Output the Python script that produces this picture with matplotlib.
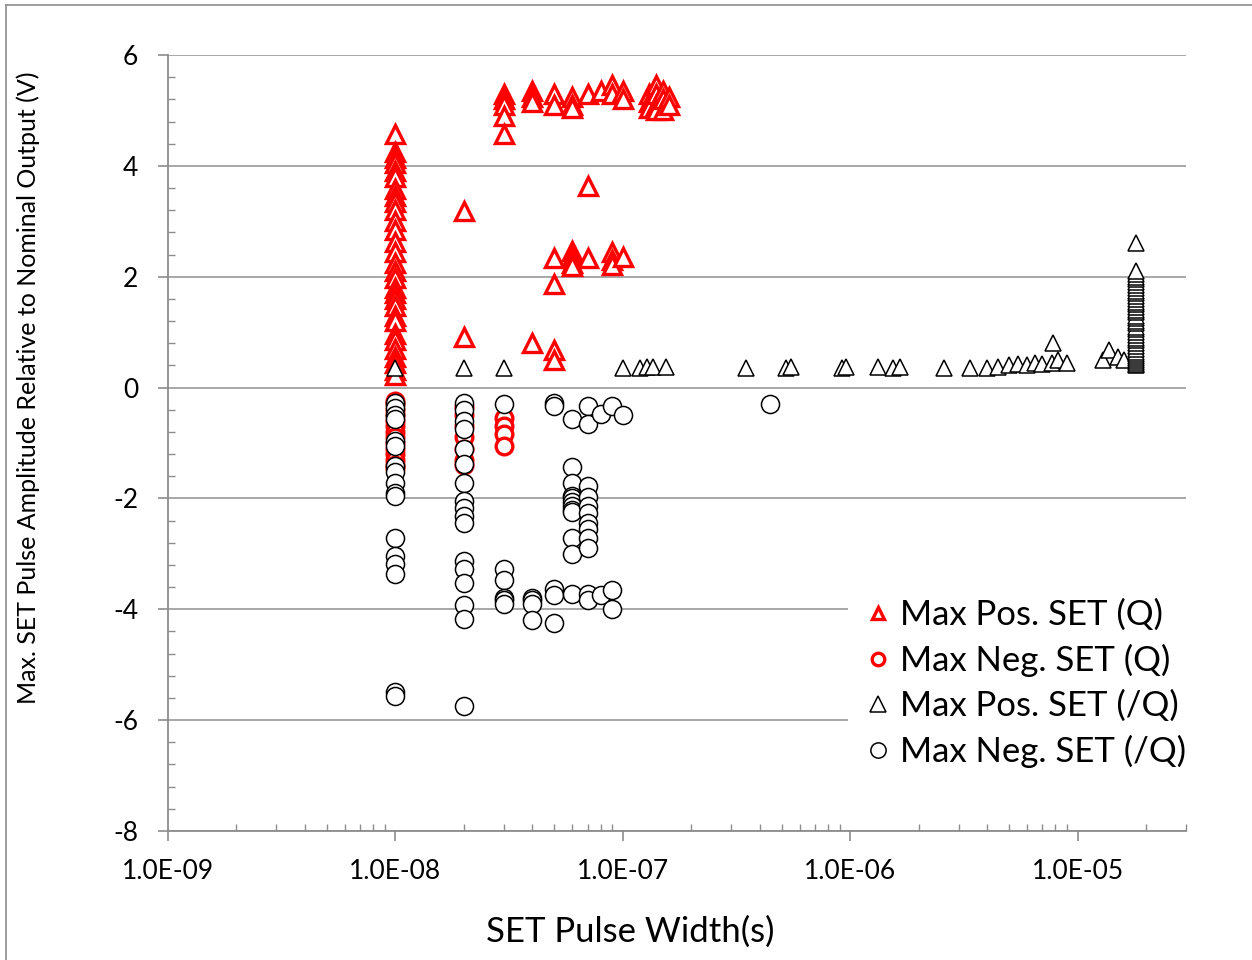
import matplotlib
matplotlib.use("Agg")
import matplotlib.pyplot as plt
from matplotlib.ticker import LogLocator, MultipleLocator, FixedLocator, NullFormatter
from matplotlib.lines import Line2D

plt.rcParams['font.family'] = ['Lato', 'DejaVu Sans']
plt.rcParams['axes.unicode_minus'] = False

# ---------------- data ----------------
# Max Pos. SET (Q)  (red triangles)
pos_q_x = ([1e-8] * 30 + [2e-8] * 2 + [3e-8] * 5 + [4e-8] * 4 + [5e-8] * 6 + [6e-8] * 7
           + [7e-8] * 3 + [8e-8] + [9e-8] * 5 + [1e-7] * 3 + [1.3e-7] * 3 + [1.4e-7] * 4
           + [1.5e-7] * 3 + [1.6e-7] * 2)
pos_q_y = [4.58, 4.25, 4.15, 4.05, 3.9, 3.79, 3.59, 3.45, 3.34, 3.2, 3.01, 2.85, 2.62,
           2.45, 2.24, 2.1, 1.97, 1.8, 1.7, 1.6, 1.48, 1.3, 1.21, 0.97, 0.85, 0.7, 0.55,
           0.45, 0.31, 0.22,
           3.18, 0.92,
           5.3, 5.2, 5.1, 4.9, 4.58,
           5.35, 5.25, 5.15, 0.8,
           5.3, 5.1, 2.33, 1.86, 0.67, 0.5,
           5.25, 5.1, 5.05, 2.47, 2.35, 2.25, 2.2,
           5.3, 3.64, 2.33,
           5.35,
           5.45, 5.3, 2.45, 2.3, 2.22,
           5.35, 5.2, 2.35,
           5.3, 5.15, 5.05,
           5.45, 5.3, 5.1, 5.0,
           5.35, 5.2, 5.0,
           5.25, 5.1]

# Max Neg. SET (Q)  (red circles)
neg_q_x = [1e-8] * 14 + [2e-8] * 7 + [3e-8] * 4
neg_q_y = [-0.25, -0.3, -0.4, -0.5, -0.6, -0.7, -0.8, -0.9, -1.0, -1.1, -1.2, -1.3, -1.4, -1.45,
           -0.35, -0.5, -0.7, -0.9, -1.1, -1.3, -1.4,
           -0.54, -0.69, -0.83, -1.05]

# Max Pos. SET (/Q)  (black triangles)
pos_nq_x = [1e-8, 2e-8, 3e-8, 1.0e-7, 1.19e-7, 1.28e-7, 1.36e-7, 1.55e-7, 3.5e-7, 5.2e-7,
            5.5e-7, 9.2e-7, 9.6e-7, 1.33e-6, 1.55e-6, 1.65e-6, 2.6e-6, 3.37e-6, 4.0e-6,
            4.46e-6, 5.0e-6, 5.5e-6, 6.0e-6, 6.5e-6, 7.0e-6, 7.7e-6, 7.8e-6, 8.2e-6, 9.0e-6,
            1.29e-5, 1.38e-5, 1.5e-5, 1.6e-5] + [1.8e-5] * 38
pos_nq_y = [0.35, 0.35, 0.35, 0.35, 0.35, 0.38, 0.38, 0.38, 0.35, 0.35,
            0.38, 0.35, 0.38, 0.37, 0.35, 0.37, 0.35, 0.35, 0.35,
            0.38, 0.4, 0.42, 0.4, 0.45, 0.42, 0.45, 0.8, 0.5, 0.45,
            0.5, 0.67, 0.55, 0.5,
            0.4, 0.43, 0.47, 0.5, 0.53, 0.57, 0.6, 0.65, 0.7, 0.75, 0.8, 0.86, 0.9, 0.95,
            1.0, 1.05, 1.1, 1.16, 1.2, 1.25, 1.3, 1.36, 1.4, 1.45, 1.5, 1.55, 1.6, 1.66,
            1.7, 1.75, 1.8, 1.85, 1.9, 1.95, 2.0, 2.05, 2.1, 2.6]

# Max Neg. SET (/Q)  (black circles)
neg_nq_x = ([1e-8] * 17 + [2e-8] * 17 + [3e-8] * 6 + [4e-8] * 4 + [5e-8] * 5 + [6e-8] * 12
            + [7e-8] * 12 + [8e-8] * 2 + [9e-8] * 3 + [1e-7] + [4.46e-7])
neg_nq_y = [-0.27, -0.36, -0.5, -0.56, -0.96, -1.05, -1.41, -1.53, -1.73, -1.91, -1.95,
            -2.72, -3.03, -3.18, -3.36, -5.5, -5.56,
            -0.27, -0.41, -0.6, -0.74, -1.1, -1.37, -1.73, -2.04, -2.18, -2.31, -2.44,
            -3.12, -3.27, -3.52, -3.93, -4.17, -5.74,
            -0.29, -3.27, -3.48, -3.79, -3.84, -3.9,
            -3.79, -3.84, -3.9, -4.2,
            -0.27, -0.34, -3.63, -3.75, -4.24,
            -0.56, -1.44, -1.73, -1.95, -2.0, -2.07, -2.13, -2.2, -2.25, -2.72, -3.0, -3.72,
            -0.34, -0.65, -1.77, -1.98, -2.13, -2.27, -2.44, -2.55, -2.71, -2.89, -3.72, -3.84,
            -0.47, -3.75,
            -0.34, -3.66, -3.99,
            -0.49,
            -0.3]

y_ticks = [-8, -6, -4, -2, 0, 2, 4, 6]
x_ticks = [1e-9, 1e-8, 1e-7, 1e-6, 1e-5]
x_tick_labels = ['1.0E-09', '1.0E-08', '1.0E-07', '1.0E-06', '1.0E-05']
labels = ['Max Pos. SET (Q)', 'Max Neg. SET (Q)', 'Max Pos. SET (/Q)', 'Max Neg. SET (/Q)']

# ---------------- figure ----------------
W, H = 1252, 960
fig = plt.figure(figsize=(W / 100, H / 100), dpi=100)
ax = fig.add_axes([168 / W, (H - 831) / H, (1186 - 168) / W, (831 - 55) / H])

gray = '#8c8c8c'
ax.set_xscale('log')
ax.set_xlim(1e-9, 3e-5)
ax.set_ylim(-8, 6)

ax.yaxis.set_major_locator(FixedLocator(y_ticks))
ax.yaxis.set_minor_locator(MultipleLocator(0.4))
ax.xaxis.set_major_locator(FixedLocator(x_ticks))
ax.set_xticklabels(x_tick_labels)
ax.xaxis.set_minor_locator(LogLocator(base=10, subs=range(2, 10), numticks=20))
ax.xaxis.set_minor_formatter(NullFormatter())

ax.grid(axis='y', which='major', color='#a0a0a0', linewidth=1.3, zorder=0)
for s in ['top', 'right']:
    ax.spines[s].set_visible(False)
for s in ['left', 'bottom']:
    ax.spines[s].set_color(gray)
    ax.spines[s].set_linewidth(1.3)

ax.tick_params(axis='both', which='major', direction='out', length=7.5, width=1.2,
               color=gray, labelsize=19)
ax.tick_params(axis='both', which='minor', direction='in', length=5, width=1.0, color=gray)
ax.tick_params(axis='x', which='major', pad=13)
ax.tick_params(axis='y', which='major', pad=14)

ax.plot(pos_q_x, pos_q_y, linestyle='none', marker='^', ms=13, mfc='white',
        mec='#ff0000', mew=2.4, zorder=3, clip_on=False)
ax.plot(neg_q_x, neg_q_y, linestyle='none', marker='o', ms=12, mfc='white',
        mec='#ff0000', mew=2.4, zorder=4, clip_on=False)
ax.plot(pos_nq_x, pos_nq_y, linestyle='none', marker='^', ms=12, mfc='white',
        mec='black', mew=1.1, zorder=5, clip_on=False)
ax.plot(neg_nq_x, neg_nq_y, linestyle='none', marker='o', ms=13, mfc='white',
        mec='black', mew=1.1, zorder=6, clip_on=False)

ax.set_xlabel('SET Pulse Width(s)', fontsize=25)
ax.xaxis.set_label_coords(0.4538, -0.1095)
ax.set_ylabel('Max. SET Pulse Amplitude Relative to Nominal Output (V)', fontsize=18)
ax.yaxis.set_label_coords(-0.1257, 0.5715)

handles = [
    Line2D([], [], linestyle='none', marker='^', ms=9, mfc='white', mec='#ff0000', mew=2.4),
    Line2D([], [], linestyle='none', marker='o', ms=9, mfc='white', mec='#ff0000', mew=2.4),
    Line2D([], [], linestyle='none', marker='^', ms=11, mfc='white', mec='black', mew=1.1),
    Line2D([], [], linestyle='none', marker='o', ms=11, mfc='white', mec='black', mew=1.1),
]
leg = fig.legend(handles, labels, loc='upper left',
                 bbox_to_anchor=(848 / W, 1 - 583 / H), fontsize=25,
                 frameon=True, facecolor='white', edgecolor='none', framealpha=1,
                 handlelength=0.8, handletextpad=0.25, labelspacing=0.37,
                 borderpad=0.45, borderaxespad=0)
leg.set_zorder(10)

# outer chart frame
fig.add_artist(Line2D([6 / W, 1.0], [1 - 5 / H, 1 - 5 / H], color=gray, lw=1.2,
                      transform=fig.transFigure))
fig.add_artist(Line2D([6 / W, 6 / W], [1 - 5 / H, 0.0], color=gray, lw=1.2,
                      transform=fig.transFigure))

fig.savefig('out.png', dpi=100)
